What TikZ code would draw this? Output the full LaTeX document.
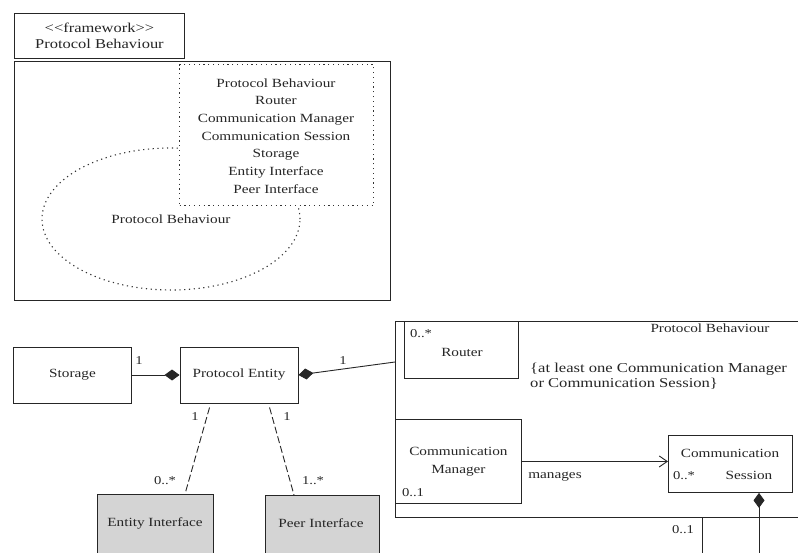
\documentclass[tikz,border=0pt]{standalone}
\usepackage{fontspec}
\setmainfont{Liberation Serif}[FakeStretch=1.22]
\usetikzlibrary{arrows.meta,shapes.geometric,calc}
\begin{document}
\begin{tikzpicture}[x=1pt,y=-1pt,
  every node/.style={font=\fontsize{12.5}{17.7}\selectfont, inner sep=0pt, text=black!85},
  box/.style={draw=black!85, rectangle, line width=0.9pt},
  ln/.style={draw=black!85, line width=0.9pt},
  dots/.style={draw=black!80, line width=1.1pt, dash pattern=on 1.2pt off 3.6pt},
  dsh/.style={draw=black!85, line width=0.9pt, dash pattern=on 7pt off 3pt},
  comp/.style={{Diamond[fill=black!85,length=15pt,width=11pt]}-},
  mult/.style={font=\fontsize{12}{14}\selectfont},
  grayfill/.style={fill=black!17}]
\useasboundingbox (0,0) rectangle (798,552);
\clip (0,0) rectangle (798,552);
\fill[white] (0,0) rectangle (798,552);

% upper framework package
\node[box, minimum width=170, minimum height=45, anchor=north west, align=center,
      font=\fontsize{13.5}{16.5}\selectfont] (tab) at (14,13)
      {<\kern0pt<framework>\kern0pt>\\Protocol Behaviour};
\node[box, minimum width=376, minimum height=239, anchor=north west] (fw) at (14,61) {};
\node[dots, ellipse, minimum width=258, minimum height=142] (ell) at (171,219) {Protocol Behaviour};
\node[dots, fill=white, minimum width=194, minimum height=141, anchor=north west] (contents) at (179,64) {};
\node[align=center] (contxt) at (276,136)
  {Protocol Behaviour\\Router\\Communication Manager\\Communication Session\\Storage\\Entity Interface\\Peer Interface};

% lower class diagram
\node[box, minimum width=118, minimum height=56] (storage) at (72.5,375) {Storage};
\node[box, minimum width=118, minimum height=56] (entity) at (239,375) {Protocol Entity};
\node[box, minimum width=420, minimum height=196, anchor=north west] (pkg) at (395,321) {};
\node (pkgname) at (710,328) {Protocol Behaviour};
\node[box, minimum width=114, minimum height=57, anchor=north west] (router) at (404,321) {};
\node (routertxt) at (462,352) {Router};
\node[mult] (routermult) at (421,334) {0..*};
\node[align=left, anchor=west, font=\fontsize{13.6}{15}\selectfont] (constraint) at (530,376)
  {\{at least one Communication Manager\\or Communication Session\}};
\node[box, minimum width=126, minimum height=84, anchor=north west, align=center] (cm) at (395,419)
  {Communication\\Manager};
\node[mult] (cmmult) at (413,493) {0..1};
\node[box, minimum width=124, minimum height=57, anchor=north west] (cs) at (668,435) {};
\node (cstxt1) at (730,453) {Communication};
\node[mult] (csmult) at (684,476) {0..*};
\node (cstxt2) at (749,475) {Session};
\node (manages) at (555,477) {manages};

\node[box, grayfill, minimum width=116, minimum height=70, anchor=north west] (ei) at (97,494) {};
\node (eitxt) at (155,523) {Entity Interface};
\node[box, grayfill, minimum width=114, minimum height=70, anchor=north west] (pi) at (265,495) {};
\node (pitxt) at (321,523) {Peer Interface};

\coordinate (pkgin) at (395,362);
\coordinate (csdown) at (759,560);
\coordinate (pkgout) at (702,560);

% connectors
\draw[ln, comp] (entity.west) -- (storage.east);
\draw[ln, comp] (entity.east) -- (pkgin);
\draw[ln, -{Straight Barb[length=8pt,width=11pt]}] (cm.east) -- (cm.east -| cs.west);
\draw[ln, comp] (csdown |- cs.south) -- (csdown);
\draw[ln] (pkgout |- pkg.south) -- (pkgout);
\draw[dsh] ($(entity.south west)+(30,4)$) -- ($(ei.north west)+(88,0)$);
\draw[dsh] ($(entity.south west)+(90,4)$) -- ($(pi.north west)+(29,0)$);

% multiplicities
\node[mult] (m1) at (139,361) {1};
\node[mult] (m2) at (343,361) {1};
\node[mult] (m3) at (195,417) {1};
\node[mult] (m4) at (165,481) {0..*};
\node[mult] (m5) at (287,417) {1};
\node[mult] (m6) at (313,481) {1..*};
\node[mult] (m7) at (683,530) {0..1};
\end{tikzpicture}
\end{document}
